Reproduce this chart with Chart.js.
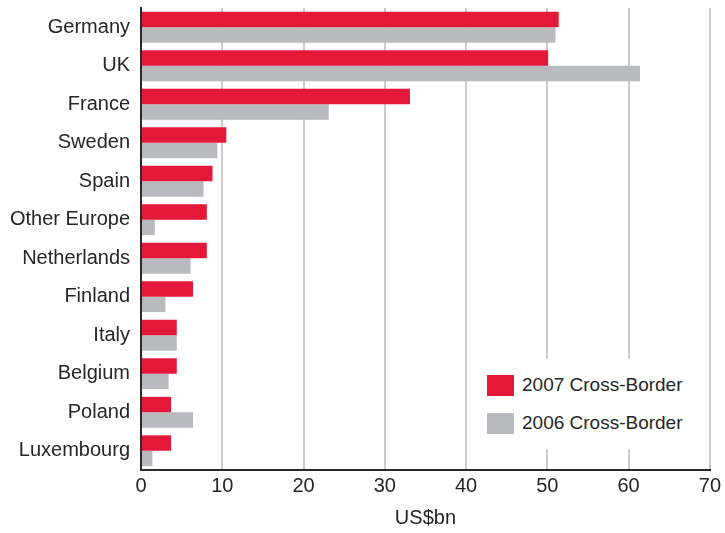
<!DOCTYPE html>
<html>
<head>
<meta charset="utf-8">
<script src="https://cdn.jsdelivr.net/npm/chart.js@4/dist/chart.umd.min.js"></script>
<style>
  body {
    margin: 0;
    background: #ffffff;
    font-family: "Liberation Sans", Arial, sans-serif;
  }
  .chartBox {
    position: relative;
    width: 725px;
    height: 533px;
  }
  #chartLegend {
    position: absolute;
    left: 476px;
    top: 359px;
    width: 230px;
    height: 90px;
    background: #ffffff;
  }
  .legend-item {
    position: absolute;
    left: 11px;
    display: flex;
    align-items: center;
    font-size: 19px;
    color: #262626;
    white-space: nowrap;
  }
  .legend-color {
    display: inline-block;
    width: 27px;
    height: 21px;
    margin-right: 8px;
  }
</style>
</head>
<body>
<div class="chartBox">
  <canvas id="myBarChart" width="725" height="533"></canvas>
  <div id="chartLegend"></div>
</div>
<script>
const countries = [
  "Germany", "UK", "France", "Sweden", "Spain", "Other Europe",
  "Netherlands", "Finland", "Italy", "Belgium", "Poland", "Luxembourg",
];
const crossBorder2007 = [51.4, 50.1, 33.1, 10.5, 8.8, 8.1, 8.1, 6.4, 4.4, 4.4, 3.7, 3.7];
const crossBorder2006 = [51.0, 61.4, 23.1, 9.4, 7.7, 1.7, 6.1, 3.0, 4.4, 3.4, 6.4, 1.4];
const xTicks = [0, 10, 20, 30, 40, 50, 60, 70];

const red = "#e4193a";
const grey = "#b9babd";
const textColor = "#262626";

const data = {
  labels: countries,
  datasets: [
    {
      label: "2007 Cross-Border",
      data: crossBorder2007,
      backgroundColor: red,
    },
    {
      label: "2006 Cross-Border",
      data: crossBorder2006,
      backgroundColor: grey,
    },
  ],
};

const config = {
  type: "bar",
  data: data,
  options: {
    indexAxis: "y", // horizontal bars
    responsive: false,
    animation: false,
    layout: {
      padding: { left: 0, right: 14, top: 8, bottom: 0 },
    },
    categoryPercentage: 0.8,
    barPercentage: 1.0,
    plugins: {
      legend: { display: false }, // html legend below
      tooltip: { enabled: false },
    },
    scales: {
      x: {
        min: 0,
        max: 70,
        afterBuildTicks: (scale) => {
          scale.ticks = xTicks.map((v) => ({ value: v }));
        },
        afterFit: (scale) => {
          scale.height = 63;
        },
        grid: {
          color: "#c9cacd",
          lineWidth: 2,
          drawTicks: false,
        },
        border: {
          color: "#2a2a2a",
          width: 2,
        },
        ticks: {
          color: textColor,
          font: { family: "Liberation Sans", size: 20 },
          padding: 4,
          maxRotation: 0,
        },
        title: {
          display: true,
          text: "US$bn",
          color: textColor,
          font: { family: "Liberation Sans", size: 20 },
          padding: { top: 0, bottom: 3 },
        },
      },
      y: {
        afterFit: (scale) => {
          scale.width = 141;
          // labels sit inside their bands, no extra room needed above/below
          scale.paddingTop = 0;
          scale.paddingBottom = 0;
        },
        grid: {
          display: false,
        },
        border: {
          color: "#2a2a2a",
          width: 2,
        },
        ticks: {
          color: textColor,
          font: { family: "Liberation Sans", size: 20 },
          padding: 3,
          autoSkip: false,
        },
      },
    },
  },
  plugins: [
    {
      id: "custom-legend",
      afterUpdate: (chart) => {
        const legendContainer = document.getElementById("chartLegend");
        legendContainer.innerHTML = "";

        chart.data.datasets.forEach((ds, index) => {
          const legendItem = document.createElement("div");
          legendItem.classList.add("legend-item");
          legendItem.style.top = 15 + index * 38 + "px";

          const colorBox = document.createElement("span");
          colorBox.classList.add("legend-color");
          colorBox.style.backgroundColor = ds.backgroundColor;

          const labelText = document.createElement("span");
          labelText.textContent = ds.label;

          legendItem.appendChild(colorBox);
          legendItem.appendChild(labelText);
          legendContainer.appendChild(legendItem);
        });
      },
    },
  ],
};

const ctx = document.getElementById("myBarChart").getContext("2d");
new Chart(ctx, config);
</script>
</body>
</html>
